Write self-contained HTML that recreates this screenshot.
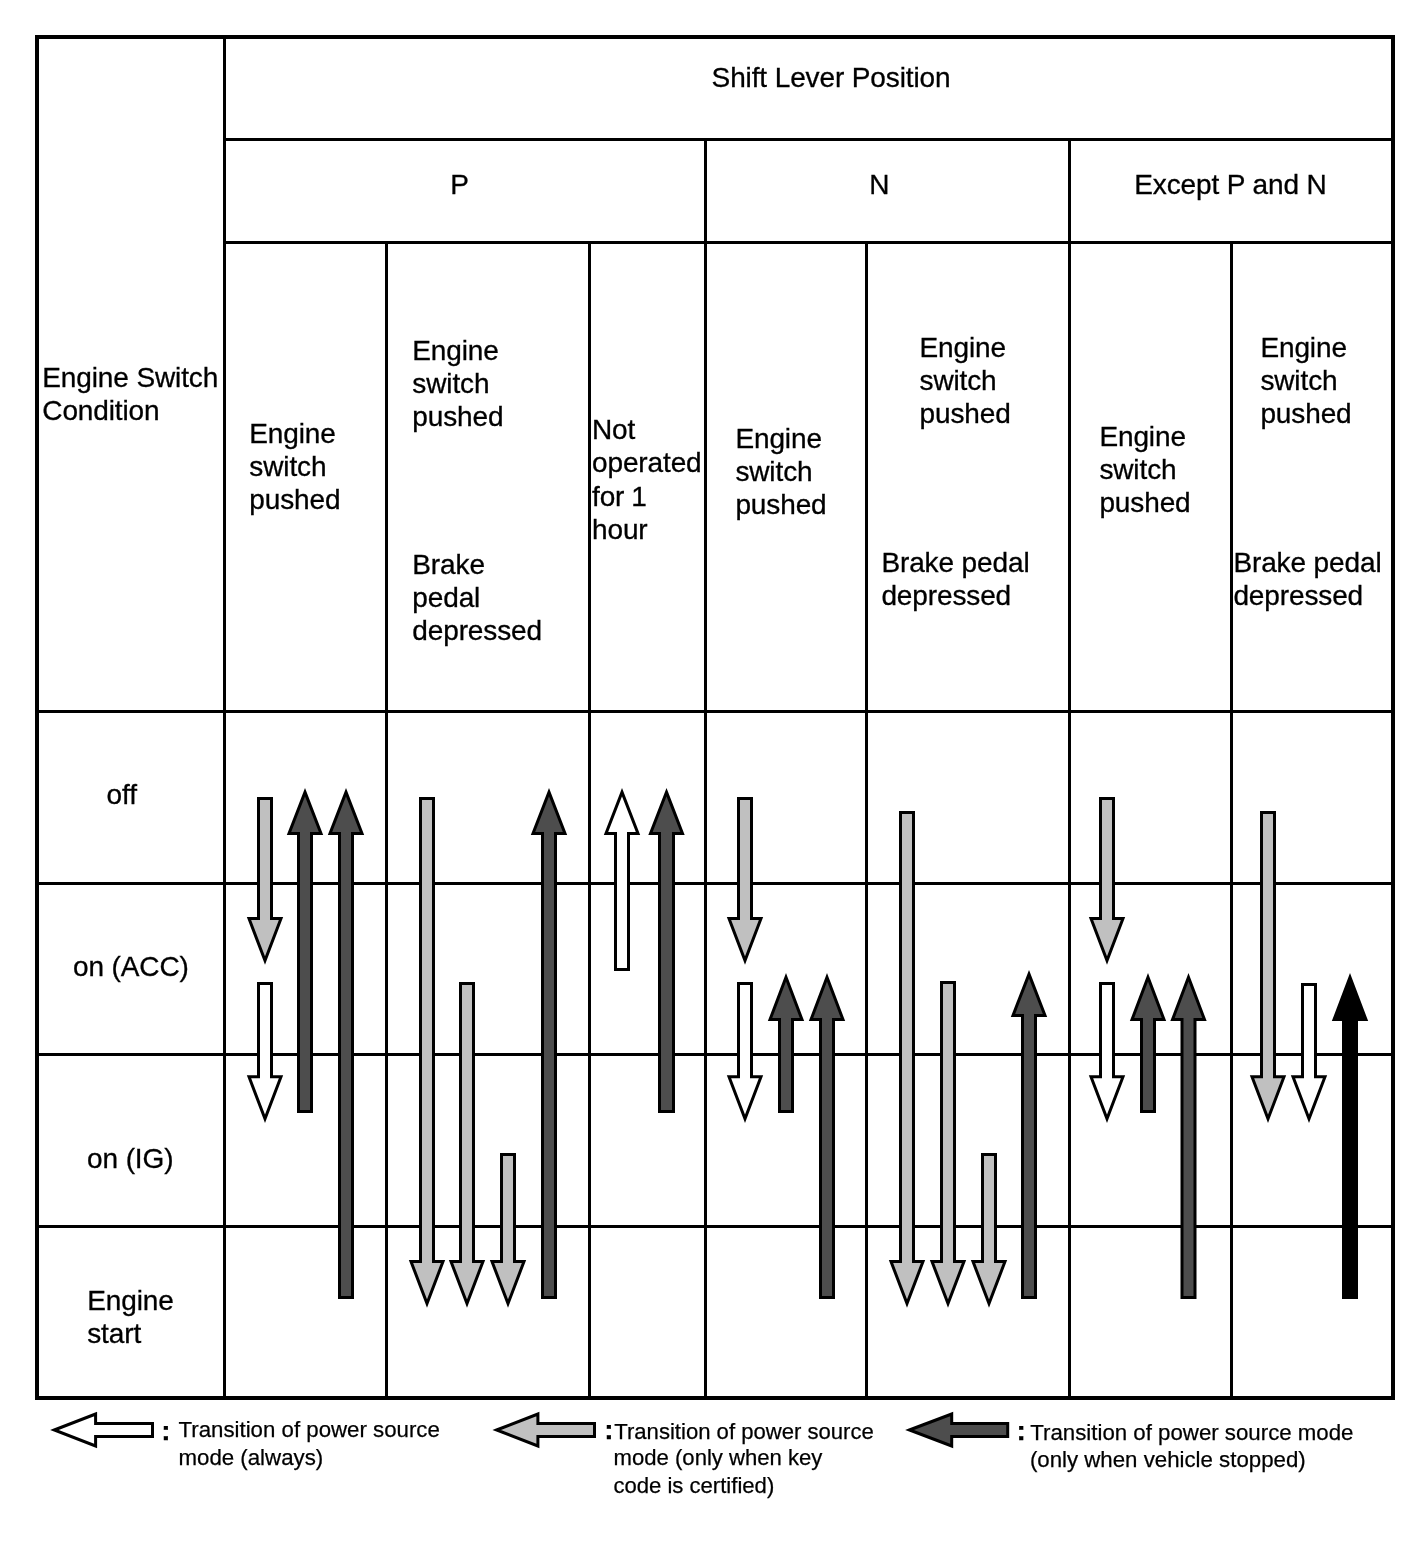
<!DOCTYPE html>
<html lang="en">
<head>
<meta charset="utf-8">
<title>Engine Switch Condition / Shift Lever Position</title>
<style>
html,body{margin:0;padding:0;background:#fff;}
body{width:1424px;height:1562px;overflow:hidden;}
svg{display:block;}
text{font-family:"Liberation Sans",sans-serif;fill:#000;}
.t{font-size:28px;letter-spacing:-0.12px;stroke:#000;stroke-width:0.3px;}
.s{font-size:22.1px;stroke:#000;stroke-width:0.25px;}
.s3{font-size:22.25px;}
.c{font-size:28px;font-weight:bold;stroke:#000;stroke-width:0.25px;stroke-linejoin:miter;}
.g{stroke:#000;stroke-width:3;fill:none;shape-rendering:crispEdges;}
.a{stroke:#000;stroke-width:3;stroke-linejoin:miter;stroke-miterlimit:10;}
</style>
</head>
<body>
<svg width="1424" height="1562" viewBox="0 0 1424 1562">
<rect x="0" y="0" width="1424" height="1562" fill="#fff"/>

<g class="g">
<rect x="37" y="37" width="1356" height="1361" style="stroke-width:4"/>
<line x1="224.5" y1="37" x2="224.5" y2="1398"/>
<line x1="224.5" y1="139.5" x2="1393" y2="139.5"/>
<line x1="224.5" y1="242.5" x2="1393" y2="242.5"/>
<line x1="37" y1="711.5" x2="1393" y2="711.5"/>
<line x1="37" y1="883.5" x2="1393" y2="883.5"/>
<line x1="37" y1="1054.5" x2="1393" y2="1054.5"/>
<line x1="37" y1="1226.5" x2="1393" y2="1226.5"/>
<line x1="705.5" y1="139.5" x2="705.5" y2="1398"/>
<line x1="1069.5" y1="139.5" x2="1069.5" y2="1398"/>
<line x1="386.5" y1="242.5" x2="386.5" y2="1398"/>
<line x1="589.5" y1="242.5" x2="589.5" y2="1398"/>
<line x1="866.5" y1="242.5" x2="866.5" y2="1398"/>
<line x1="1231.5" y1="242.5" x2="1231.5" y2="1398"/>
</g>
<g class="a">
<path fill="#c0c0c0" d="M258.5 798.5H271.5V918.5H281.0L265 960.6L249.0 918.5H258.5Z"/>
<path fill="#fff" d="M258.5 983.5H271.5V1076.8H281.0L265 1118.9L249.0 1076.8H258.5Z"/>
<path fill="#4d4d4d" d="M305 792.1L321.0 833.4H311.5V1111.5H298.5V833.4H289.0Z"/>
<path fill="#4d4d4d" d="M346 792.1L362.0 833.4H352.5V1297.5H339.5V833.4H330.0Z"/>
<path fill="#c0c0c0" d="M420.5 798.5H433.5V1261.5H443.0L427 1303.6L411.0 1261.5H420.5Z"/>
<path fill="#c0c0c0" d="M460.5 983.5H473.5V1261.5H483.0L467 1303.6L451.0 1261.5H460.5Z"/>
<path fill="#c0c0c0" d="M501.5 1154.5H514.5V1261.5H524.0L508 1303.6L492.0 1261.5H501.5Z"/>
<path fill="#4d4d4d" d="M549 792.1L565.0 833.4H555.5V1297.5H542.5V833.4H533.0Z"/>
<path fill="#fff" d="M622 792.1L638.0 833.4H628.5V969.5H615.5V833.4H606.0Z"/>
<path fill="#4d4d4d" d="M666.5 792.1L682.5 833.4H673.5V1111.5H659.5V833.4H650.5Z"/>
<path fill="#c0c0c0" d="M738.5 798.5H751.5V918.5H761.0L745 960.6L729.0 918.5H738.5Z"/>
<path fill="#fff" d="M738.5 983.5H751.5V1076.8H761.0L745 1118.9L729.0 1076.8H738.5Z"/>
<path fill="#4d4d4d" d="M786 977.3L802.0 1019.6H792.5V1111.5H779.5V1019.6H770.0Z"/>
<path fill="#4d4d4d" d="M827 977.3L843.0 1019.6H833.5V1297.5H820.5V1019.6H811.0Z"/>
<path fill="#c0c0c0" d="M900.5 812.5H913.5V1261.5H923.0L907 1303.6L891.0 1261.5H900.5Z"/>
<path fill="#c0c0c0" d="M941.5 982.5H954.5V1261.5H964.0L948 1303.6L932.0 1261.5H941.5Z"/>
<path fill="#c0c0c0" d="M982.5 1154.5H995.5V1261.5H1005.0L989 1303.6L973.0 1261.5H982.5Z"/>
<path fill="#4d4d4d" d="M1029 974.1L1045.0 1015.4H1035.5V1297.5H1022.5V1015.4H1013.0Z"/>
<path fill="#c0c0c0" d="M1100.5 798.5H1113.5V918.5H1123.0L1107 960.6L1091.0 918.5H1100.5Z"/>
<path fill="#fff" d="M1100.5 983.5H1113.5V1076.8H1123.0L1107 1118.9L1091.0 1076.8H1100.5Z"/>
<path fill="#4d4d4d" d="M1148 977.3L1164.0 1019.6H1154.5V1111.5H1141.5V1019.6H1132.0Z"/>
<path fill="#4d4d4d" d="M1188.5 977.3L1204.5 1019.6H1195.0V1297.5H1182.0V1019.6H1172.5Z"/>
<path fill="#c0c0c0" d="M1261.5 812.5H1274.5V1076.8H1284.0L1268 1118.9L1252.0 1076.8H1261.5Z"/>
<path fill="#fff" d="M1302.5 984.5H1315.5V1076.8H1325.0L1309 1118.9L1293.0 1076.8H1302.5Z"/>
<path fill="#000" d="M1350 977.3L1366.0 1019.6H1356.5V1297.5H1343.5V1019.6H1334.0Z"/>
<path fill="#fff" d="M54.3 1430L95.6 1414.0V1423.5H152.5V1436.5H95.6V1446.0Z"/>
<path fill="#c0c0c0" d="M496.6 1430L537.9 1414.0V1423.5H594.5V1436.5H537.9V1446.0Z"/>
<path fill="#4d4d4d" d="M909.4 1430L951.7 1414.0V1423.5H1007.7V1436.5H951.7V1446.0Z"/>
</g>
<text class="t" x="711.6" y="87">Shift Lever Position</text>
<text class="t" x="450.3" y="194">P</text>
<text class="t" x="869.3" y="194">N</text>
<text class="t" x="1134.3" y="194">Except P and N</text>
<text class="t" x="42.3" y="386.8">Engine Switch</text>
<text class="t" x="42.3" y="420.1">Condition</text>
<text class="t" x="249.3" y="442.6">Engine</text>
<text class="t" x="249.3" y="475.9">switch</text>
<text class="t" x="249.3" y="509.2">pushed</text>
<text class="t" x="412.3" y="359.6">Engine</text>
<text class="t" x="412.3" y="392.9">switch</text>
<text class="t" x="412.3" y="426.2">pushed</text>
<text class="t" x="412.3" y="573.6">Brake</text>
<text class="t" x="412.3" y="606.9">pedal</text>
<text class="t" x="412.3" y="640.2">depressed</text>
<text class="t" x="592.0" y="438.5">Not</text>
<text class="t" x="592.0" y="472.0">operated</text>
<text class="t" x="592.0" y="505.7">for<tspan dx="-0.8"> 1</tspan></text>
<text class="t" x="592.0" y="538.5">hour</text>
<text class="t" x="735.4" y="447.6">Engine</text>
<text class="t" x="735.4" y="480.9">switch</text>
<text class="t" x="735.4" y="514.2">pushed</text>
<text class="t" x="919.5" y="356.6">Engine</text>
<text class="t" x="919.5" y="389.9">switch</text>
<text class="t" x="919.5" y="423.2">pushed</text>
<text class="t" x="881.4" y="571.6">Brake pedal</text>
<text class="t" x="881.4" y="604.9">depressed</text>
<text class="t" x="1099.4" y="445.6">Engine</text>
<text class="t" x="1099.4" y="478.9">switch</text>
<text class="t" x="1099.4" y="512.2">pushed</text>
<text class="t" x="1260.4" y="356.6">Engine</text>
<text class="t" x="1260.4" y="389.9">switch</text>
<text class="t" x="1260.4" y="423.2">pushed</text>
<text class="t" x="1233.4" y="571.6">Brake pedal</text>
<text class="t" x="1233.4" y="604.9">depressed</text>
<text class="t" x="106.6" y="803.5">off</text>
<text class="t" x="73" y="976.3">on (ACC)</text>
<text class="t" x="87.1" y="1168">on (IG)</text>
<text class="t" x="87.2" y="1310.0">Engine</text>
<text class="t" x="87.2" y="1343.3">start</text>
<text class="c" x="161.3" y="1439.6">:</text>
<text class="s s3" x="178.5" y="1437.4">Transition of power source</text>
<text class="s s3" x="178.5" y="1464.8">mode (always)</text>
<text class="c" x="604.2" y="1438.6">:</text>
<text class="s" x="614.3" y="1438.7">Transition of power source</text>
<text class="s" x="613.6" y="1465.4">mode (only when key</text>
<text class="s" x="613.4" y="1492.8">code is certified)</text>
<text class="c" x="1016.4" y="1439.7">:</text>
<text class="s s3" x="1030.3" y="1440.3">Transition of power source mode</text>
<text class="s s3" x="1029.9" y="1467.3">(only when vehicle stopped)</text>
</svg>
</body>
</html>
